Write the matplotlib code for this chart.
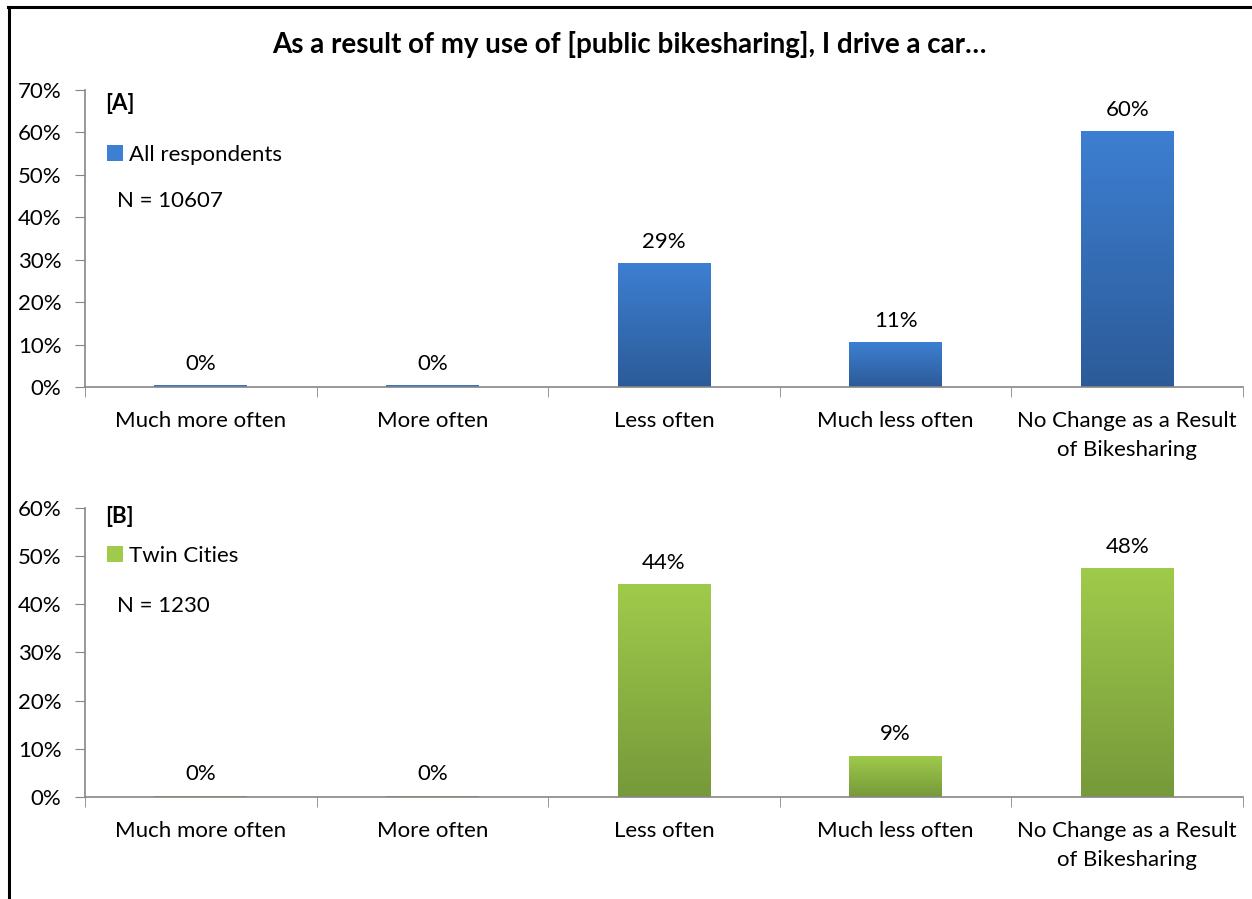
import matplotlib.pyplot as plt
import numpy as np
from matplotlib.lines import Line2D
from matplotlib.patches import Patch
from matplotlib.colors import LinearSegmentedColormap

plt.rcParams['font.family'] = ['Lato', 'DejaVu Sans']

categories = ["Much more often", "More often", "Less often", "Much less often",
              "No Change as a Result\nof Bikesharing"]
all_values = [0.4, 0.4, 29.2, 10.6, 60.4]
all_labels = ["0%", "0%", "29%", "11%", "60%"]
twin_values = [0.3, 0.3, 44.2, 8.6, 47.6]
twin_labels = ["0%", "0%", "44%", "9%", "48%"]

title = "As a result of my use of [public bikesharing], I drive a car\u2026"

BLUE_TOP, BLUE_BOT = "#3d7fd2", "#2c5b98"
GREEN_TOP, GREEN_BOT = "#9fcb4b", "#76993a"
AXIS_GREY = "#868686"
FS = 16


def gradient_bars(ax, bars, top, bottom):
    cmap = LinearSegmentedColormap.from_list("g", [bottom, top])
    grad = np.linspace(0, 1, 256).reshape(-1, 1)
    for b in bars:
        x0, y0 = b.get_x(), b.get_y()
        w, h = b.get_width(), b.get_height()
        im = ax.imshow(grad, cmap=cmap, aspect="auto", origin="lower",
                       extent=[x0, x0 + w, y0, y0 + h], zorder=2)
        im.set_clip_path(b)


def draw_panel(ax, values, labels, ymax, top, bottom, tag, series, n_text, ypos):
    x = np.arange(len(categories))
    bars = ax.bar(x, values, width=0.4, color=bottom, zorder=1, linewidth=0)
    gradient_bars(ax, bars, top, bottom)
    for xi, v, lab in zip(x, values, labels):
        ax.annotate(lab, (xi, v), xytext=(0, 8), textcoords="offset points",
                    ha="center", va="bottom", fontsize=FS)
    ax.set_xlim(-0.5, len(categories) - 0.5)
    ax.set_ylim(0, ymax)
    ax.set_yticks(np.arange(0, ymax + 1, 10))
    ax.set_yticklabels([f"{v}%" for v in range(0, ymax + 1, 10)], fontsize=FS)
    ax.set_xticks(x)
    ax.set_xticklabels(categories, fontsize=FS, linespacing=1.6)
    ax.set_xticks(np.arange(-0.5, len(categories)), minor=True)
    ax.tick_params(axis="x", which="major", length=0, pad=17)
    ax.tick_params(axis="x", which="minor", length=7, color=AXIS_GREY, direction="out")
    ax.tick_params(axis="y", length=7, color=AXIS_GREY, direction="out", pad=10)
    for s in ["top", "right"]:
        ax.spines[s].set_visible(False)
    for s in ["left", "bottom"]:
        ax.spines[s].set_color(AXIS_GREY)
        ax.spines[s].set_linewidth(1.2)
    ax.text(0.0172, ypos[0], tag, transform=ax.transAxes, fontsize=FS,
            fontweight="bold", va="center", ha="left")
    handle = Patch(facecolor=top, edgecolor="none")
    ax.legend([handle], [series], loc="center left", bbox_to_anchor=(0.019, ypos[1]),
              frameon=False, fontsize=FS, handlelength=0.7, handleheight=0.7,
              handletextpad=0.3, borderaxespad=0, borderpad=0)
    ax.text(0.0275, ypos[2], n_text, transform=ax.transAxes, fontsize=FS,
            va="center", ha="left")


fig = plt.figure(figsize=(12.52, 8.99), dpi=100)
ax1 = fig.add_axes([0.0679, 0.5695, 0.9249, 0.3304])
ax2 = fig.add_axes([0.0679, 0.1135, 0.9249, 0.3215])

draw_panel(ax1, all_values, all_labels, 70, BLUE_TOP, BLUE_BOT, "[A]",
           "All respondents", "N = 10607", (0.956, 0.782, 0.627))
draw_panel(ax2, twin_values, twin_labels, 60, GREEN_TOP, GREEN_BOT, "[B]",
           "Twin Cities", "N = 1230", (0.969, 0.834, 0.66))

fig.text(0.503, 0.951, title, ha="center", va="center", fontsize=20, fontweight="bold")

# outer frame (left and top edges visible)
fig.add_artist(Line2D([0.0072, 0.0072], [0.0, 0.9925], color="black", lw=2.2,
                      transform=fig.transFigure))
fig.add_artist(Line2D([0.0064, 1.0], [0.9925, 0.9925], color="black", lw=2.2,
                      transform=fig.transFigure))

fig.savefig("out.png", dpi=100)
